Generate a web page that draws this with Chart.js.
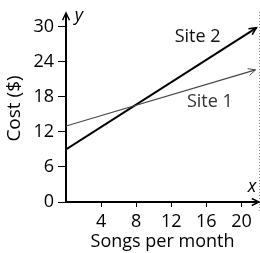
<!DOCTYPE html>
<html>
<head>
<meta charset="utf-8">
<script src="https://cdn.jsdelivr.net/npm/chart.js@4.4.1/dist/chart.umd.min.js"></script>
<style>
  html, body { margin: 0; padding: 0; background: #fff; }
  #wrap { width: 260px; height: 253px; }
</style>
</head>
<body>
<div id="wrap"><canvas id="graph"></canvas></div>
<script>
// values
const songs1 = [0, 21.6];
const cost1 = [13, 22.6];
const songs2 = [0, 21.7];
const cost2 = [9, 29.8];
const xTicks = [4, 8, 12, 16, 20];
const yTicks = [0, 6, 12, 18, 24, 30];
const seriesNames = ["Site 1", "Site 2"];

const FONT = "'Open Sans', 'DejaVu Sans', sans-serif";

function arrowHead(ctx, x, y, angle, size, width, color) {
  ctx.save();
  ctx.strokeStyle = color;
  ctx.lineWidth = width;
  ctx.beginPath();
  ctx.moveTo(x - size * Math.cos(angle - 0.45), y - size * Math.sin(angle - 0.45));
  ctx.lineTo(x, y);
  ctx.lineTo(x - size * Math.cos(angle + 0.45), y - size * Math.sin(angle + 0.45));
  ctx.stroke();
  ctx.restore();
}

const decor = {
  id: "decor",
  afterDraw(chart) {
    const ctx = chart.ctx;
    const xs = chart.scales.x, ys = chart.scales.y;
    const a = chart.chartArea;

    // axis arrows
    arrowHead(ctx, a.left, a.top - 2, -Math.PI / 2, 8, 1.5, "#000");
    arrowHead(ctx, a.right, a.bottom, 0, 8, 1.5, "#000");

    // arrows at the ends of the lines
    chart.data.datasets.forEach((ds, i) => {
      const pts = chart.getDatasetMeta(i).data;
      const p = pts[pts.length - 1], q = pts[pts.length - 2];
      const ang = Math.atan2(p.y - q.y, p.x - q.x);
      arrowHead(ctx, p.x, p.y, ang, 8, ds.borderWidth * 0.8, ds.borderColor);
    });

    ctx.save();
    ctx.fillStyle = "#111";
    ctx.textBaseline = "middle";
    ctx.textAlign = "center";
    ctx.font = "18px " + FONT;
    ctx.fillText(seriesNames[1], xs.getPixelForValue(15), ys.getPixelForValue(28.2));
    ctx.fillStyle = "#333";
    ctx.fillText(seriesNames[0], xs.getPixelForValue(16.4), ys.getPixelForValue(17.2));
    ctx.fillStyle = "#000";
    ctx.font = "italic 18px " + FONT;
    ctx.fillText("y", a.left + 13, a.top + 1);
    ctx.fillText("x", a.right - 7, a.bottom - 15);

    // dotted page edge on the right
    ctx.strokeStyle = "#888";
    ctx.lineWidth = 1;
    ctx.setLineDash([1, 2]);
    ctx.beginPath();
    ctx.moveTo(259.5, 12);
    ctx.lineTo(259.5, 213);
    ctx.stroke();
    ctx.restore();
  }
};

const data = {
  datasets: [
    {
      label: seriesNames[0],
      data: songs1.map((s, i) => ({ x: s, y: cost1[i] })),
      borderColor: "#444",
      borderWidth: 1.2,
      pointRadius: 0
    },
    {
      label: seriesNames[1],
      data: songs2.map((s, i) => ({ x: s, y: cost2[i] })),
      borderColor: "#000",
      borderWidth: 2,
      pointRadius: 0
    }
  ]
};

const tickFont = { family: FONT, size: 18 };

new Chart(document.getElementById("graph"), {
  type: "line",
  data: data,
  plugins: [decor],
  options: {
    responsive: true,
    maintainAspectRatio: false,
    animation: false,
    layout: { padding: { left: 0, top: 15, right: 1, bottom: 0 } },
    plugins: { legend: { display: false }, tooltip: { enabled: false } },
    scales: {
      x: {
        type: "linear",
        min: 0,
        max: 22,
        afterBuildTicks: s => { s.ticks = xTicks.map(v => ({ value: v })); },
        afterFit: s => { s.height = 51; },
        grid: { drawOnChartArea: false, drawTicks: true, tickLength: 5, color: "#000", lineWidth: 1 },
        border: { display: true, color: "#000", width: 2 },
        ticks: { color: "#000", font: tickFont, padding: 4, maxRotation: 0 },
        title: { display: true, text: "Songs per month", color: "#000", font: { family: FONT, size: 18 }, padding: 0 }
      },
      y: {
        type: "linear",
        min: 0,
        max: 32,
        afterBuildTicks: s => { s.ticks = yTicks.map(v => ({ value: v })); },
        afterFit: s => { s.width = 66; },
        grid: { drawOnChartArea: false, drawTicks: true, tickLength: 8, color: "#000", lineWidth: 1 },
        border: { display: true, color: "#000", width: 2 },
        ticks: { color: "#000", font: tickFont, padding: 4 },
        title: { display: true, text: "Cost ($)", color: "#000", font: { family: FONT, size: 19 }, padding: 3 }
      }
    }
  }
});
</script>
</body>
</html>
